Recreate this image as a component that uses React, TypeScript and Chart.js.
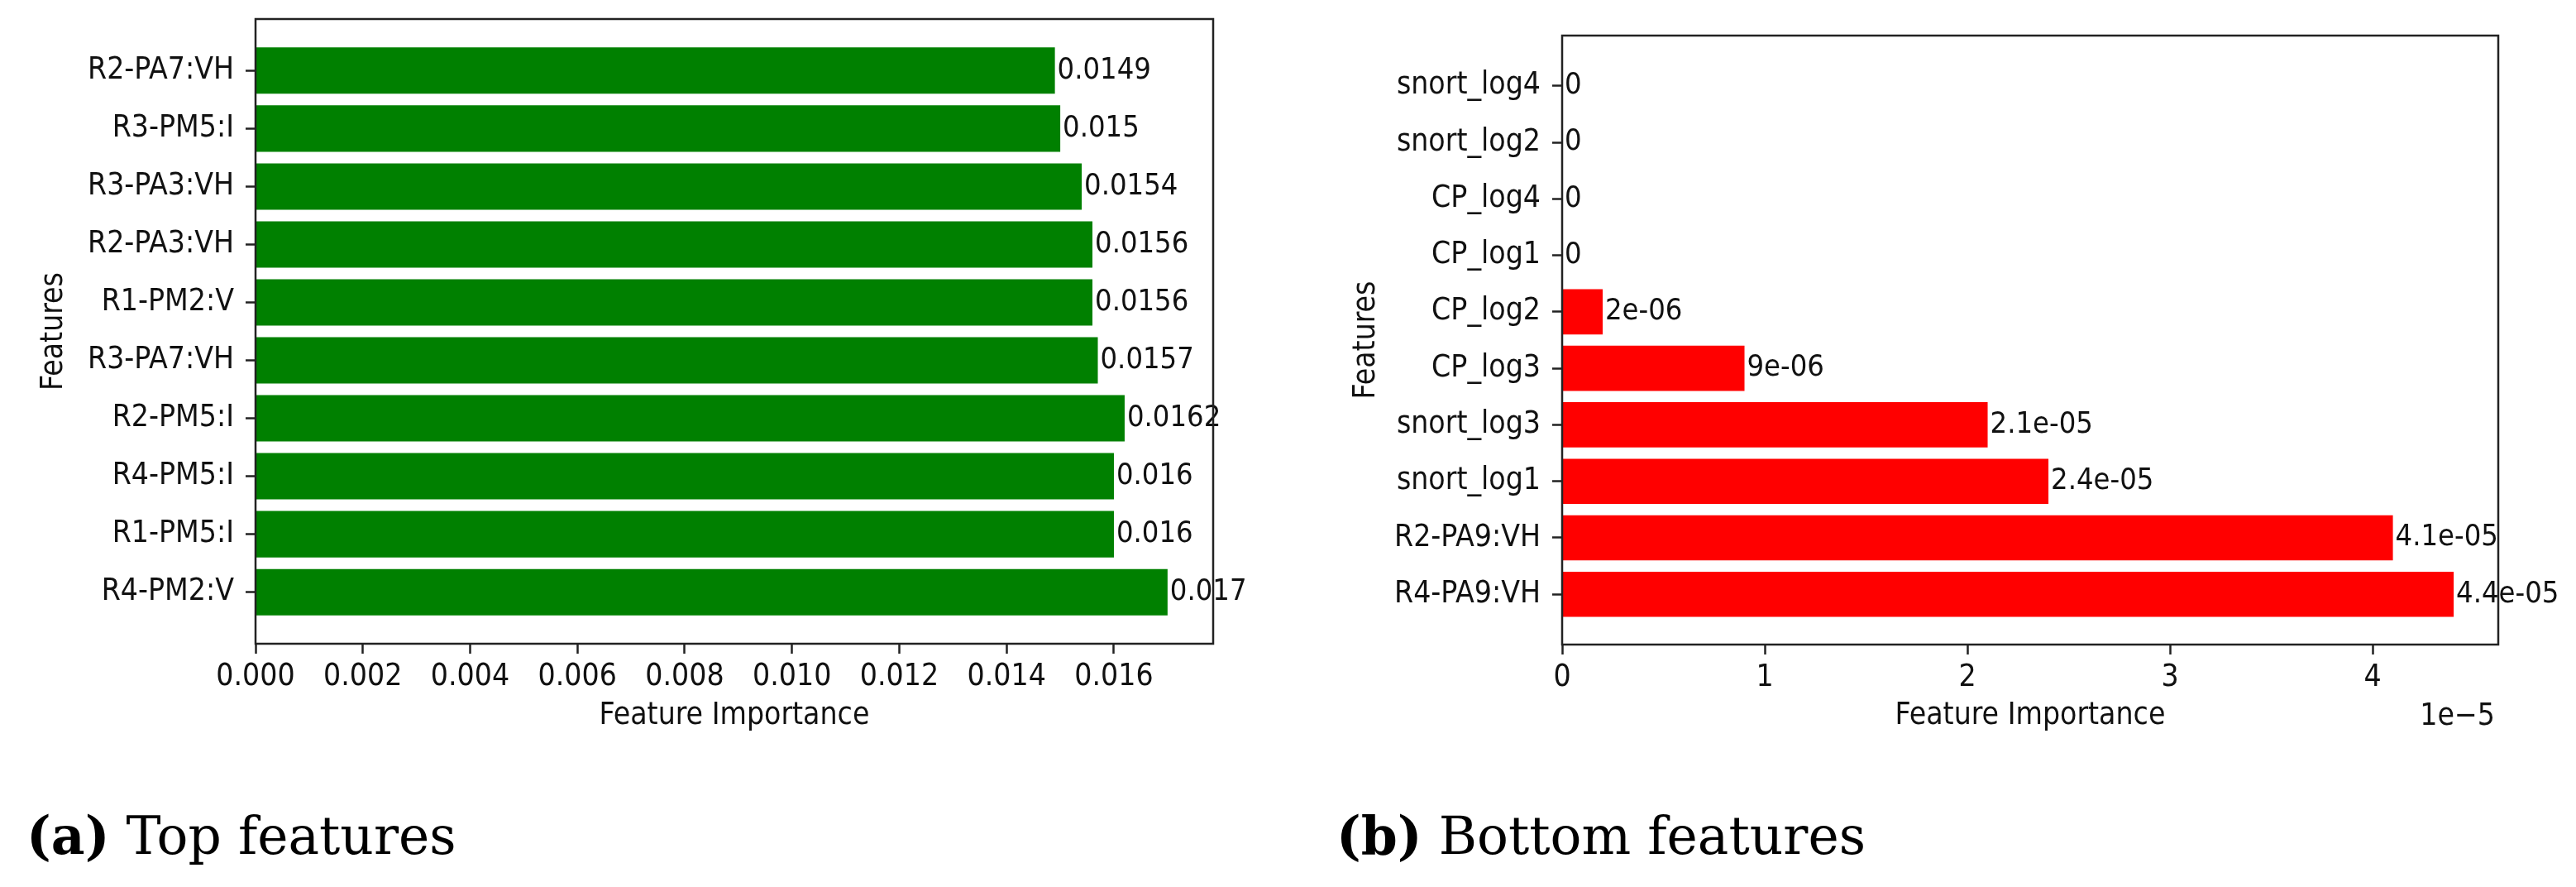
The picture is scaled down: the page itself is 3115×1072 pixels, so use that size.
import React, { useEffect, useRef } from 'react';
import { Chart, registerables } from 'chart.js';

Chart.register(...registerables);

// ---------- data ----------
const TOP_FEATURES = ['R4-PM2:V', 'R1-PM5:I', 'R4-PM5:I', 'R2-PM5:I', 'R3-PA7:VH', 'R1-PM2:V', 'R2-PA3:VH', 'R3-PA3:VH', 'R3-PM5:I', 'R2-PA7:VH'];
const TOP_VALUES = [0.017, 0.016, 0.016, 0.0162, 0.0157, 0.0156, 0.0156, 0.0154, 0.015, 0.0149];
const TOP_TICKS = [0, 0.002, 0.004, 0.006, 0.008, 0.01, 0.012, 0.014, 0.016];

const BOTTOM_FEATURES = ['R4-PA9:VH', 'R2-PA9:VH', 'snort_log1', 'snort_log3', 'CP_log3', 'CP_log2', 'CP_log1', 'CP_log4', 'snort_log2', 'snort_log4'];
const BOTTOM_VALUES = [4.4e-5, 4.1e-5, 2.4e-5, 2.1e-5, 9e-6, 2e-6, 0, 0, 0, 0];
const BOTTOM_TICKS = [0, 1e-5, 2e-5, 3e-5, 4e-5];
const BOTTOM_SCALE = 1e-5;
const OFFSET_TEXT = '1e\u22125';

const X_TITLE = 'Feature Importance';
const Y_TITLE = 'Features';
const CAPTION_A = ['(a)', ' Top features'];
const CAPTION_B = ['(b)', ' Bottom features'];

// ---------- style ----------
const FONT = "'DejaVu Sans Condensed', 'DejaVu Sans', sans-serif";
const FONT_SIZE = 37;
const LABEL_SIZE = 36;
const TEXT_COLOR = '#111';
const SPINE = '#222';

function pyRepr(v: number): string {
  if (v === 0) return '0';
  if (Math.abs(v) < 1e-4) {
    const s = v.toExponential();
    return s.replace(/e([+-])(\d)$/, 'e$10$2');
  }
  return String(v);
}

type PanelCfg = {
  labels: string[];
  values: number[];
  ticks: number[];
  color: string;
  tickFmt: (v: number) => string;
  valFmt: (v: number) => string;
  width: number;
  height: number;
  top: number;
  rightPad: number;
  yScaleWidth: number;
  xScaleHeight: number;
  yTitlePad: number;
  offsetText?: string;
};

function makeChart(canvas: HTMLCanvasElement, cfg: PanelCfg) {
  const n = cfg.labels.length;
  const xMax = Math.max(...cfg.values) * 1.05;
  const data = cfg.values.map((v, i) => ({ x: v, y: i }));
  const font = { family: FONT, size: FONT_SIZE };

  const valueLabels = {
    id: 'valueLabels',
    afterDatasetsDraw(chart: any) {
      const ctx = chart.ctx;
      const meta = chart.getDatasetMeta(0);
      ctx.save();
      ctx.font = `${LABEL_SIZE}px ${FONT}`;
      ctx.fillStyle = TEXT_COLOR;
      ctx.textAlign = 'left';
      ctx.textBaseline = 'middle';
      meta.data.forEach((el: any, i: number) => {
        ctx.fillText(cfg.valFmt(cfg.values[i]), el.x + 3, el.y);
      });
      ctx.restore();
    },
  };

  const frame = {
    id: 'frame',
    afterDraw(chart: any) {
      const { ctx, chartArea: a } = chart;
      ctx.save();
      ctx.strokeStyle = SPINE;
      ctx.lineWidth = 2.5;
      ctx.strokeRect(a.left, a.top, a.right - a.left, a.bottom - a.top);
      if (cfg.offsetText) {
        ctx.font = `${FONT_SIZE}px ${FONT}`;
        ctx.fillStyle = TEXT_COLOR;
        ctx.textAlign = 'right';
        ctx.textBaseline = 'middle';
        ctx.fillText(cfg.offsetText, a.right - 4, 866);
      }
      ctx.restore();
    },
  };

  return new Chart(canvas, {
    type: 'bar',
    data: {
      datasets: [
        {
          data: data as any,
          backgroundColor: cfg.color,
          borderWidth: 0,
          barPercentage: 0.8,
          categoryPercentage: 1,
        },
      ],
    },
    options: {
      indexAxis: 'y',
      animation: false,
      responsive: false,
      devicePixelRatio: 1,
      layout: { padding: { left: 0, top: cfg.top, right: cfg.rightPad, bottom: 0 } },
      plugins: { legend: { display: false }, tooltip: { enabled: false }, title: { display: false } },
      scales: {
        x: {
          type: 'linear',
          position: 'bottom',
          min: 0,
          max: xMax,
          offset: false,
          afterBuildTicks: (s: any) => {
            s.ticks = cfg.ticks.map((v) => ({ value: v }));
          },
          afterFit: (s: any) => {
            s.height = cfg.xScaleHeight;
            s.paddingLeft = 0;
            s.paddingRight = 0;
          },
          grid: { offset: false, drawOnChartArea: false, drawTicks: true, tickLength: 12, tickColor: SPINE, tickWidth: 2.5, color: SPINE },
          border: { display: false },
          ticks: {
            autoSkip: false,
            maxRotation: 0,
            padding: 6,
            color: TEXT_COLOR,
            font,
            callback: (v: any) => cfg.tickFmt(Number(v)),
          },
          title: { display: true, text: X_TITLE, color: TEXT_COLOR, font, padding: { top: 0, bottom: 12 } },
        },
        y: {
          type: 'linear',
          position: 'left',
          min: -0.89,
          max: n - 1 + 0.89,
          offset: false,
          afterBuildTicks: (s: any) => {
            s.ticks = cfg.labels.map((_, i) => ({ value: i }));
          },
          afterFit: (s: any) => {
            s.width = cfg.yScaleWidth;
            s.paddingTop = 0;
            s.paddingBottom = 0;
          },
          grid: { offset: false, drawOnChartArea: false, drawTicks: true, tickLength: 12, tickColor: SPINE, tickWidth: 2.5, color: SPINE },
          border: { display: false },
          ticks: {
            autoSkip: false,
            padding: 14,
            color: TEXT_COLOR,
            font,
            callback: (v: any) => cfg.labels[Math.round(Number(v))] ?? '',
          },
          title: { display: true, text: Y_TITLE, color: TEXT_COLOR, font, padding: { top: cfg.yTitlePad, bottom: 0 } },
        },
      },
    },
    plugins: [valueLabels, frame],
  } as any);
}

function Panel({ cfg, left }: { cfg: PanelCfg; left: number }) {
  const ref = useRef<HTMLCanvasElement | null>(null);
  useEffect(() => {
    if (!ref.current) return;
    const chart = makeChart(ref.current, cfg);
    return () => chart.destroy();
  }, []);
  return (
    <canvas
      ref={ref}
      width={cfg.width}
      height={cfg.height}
      style={{ position: 'absolute', left, top: 0, width: cfg.width, height: cfg.height }}
    />
  );
}

const topCfg: PanelCfg = {
  labels: TOP_FEATURES,
  values: TOP_VALUES,
  ticks: TOP_TICKS,
  color: '#008000',
  tickFmt: (v) => v.toFixed(3),
  valFmt: (v) => String(v),
  width: 1560,
  height: 900,
  top: 23,
  rightPad: 1560 - 1467,
  yScaleWidth: 309,
  xScaleHeight: 900 - 778,
  yTitlePad: 43,
};

const bottomCfg: PanelCfg = {
  labels: BOTTOM_FEATURES,
  values: BOTTOM_VALUES,
  ticks: BOTTOM_TICKS,
  color: '#ff0000',
  tickFmt: (v) => String(Math.round(v / BOTTOM_SCALE)),
  valFmt: pyRepr,
  width: 1555,
  height: 900,
  top: 43,
  rightPad: 1555 - 1461,
  yScaleWidth: 329,
  xScaleHeight: 900 - 779,
  yTitlePad: 70,
  offsetText: OFFSET_TEXT,
};

const captionStyle: React.CSSProperties = {
  position: 'absolute',
  top: 979,
  fontFamily: "'DejaVu Serif', serif",
  fontSize: 63,
  lineHeight: 1,
  whiteSpace: 'pre',
  color: '#000',
};

export default function App() {
  return (
    <div style={{ position: 'absolute', left: 0, top: 0, width: 3115, height: 1072, background: '#fff', overflow: 'hidden' }}>
      <Panel cfg={topCfg} left={0} />
      <Panel cfg={bottomCfg} left={1560} />
      <div style={{ ...captionStyle, left: 32 }}>
        <b>{CAPTION_A[0]}</b>
        {CAPTION_A[1]}
      </div>
      <div style={{ ...captionStyle, left: 1616 }}>
        <b>{CAPTION_B[0]}</b>
        {CAPTION_B[1]}
      </div>
    </div>
  );
}
